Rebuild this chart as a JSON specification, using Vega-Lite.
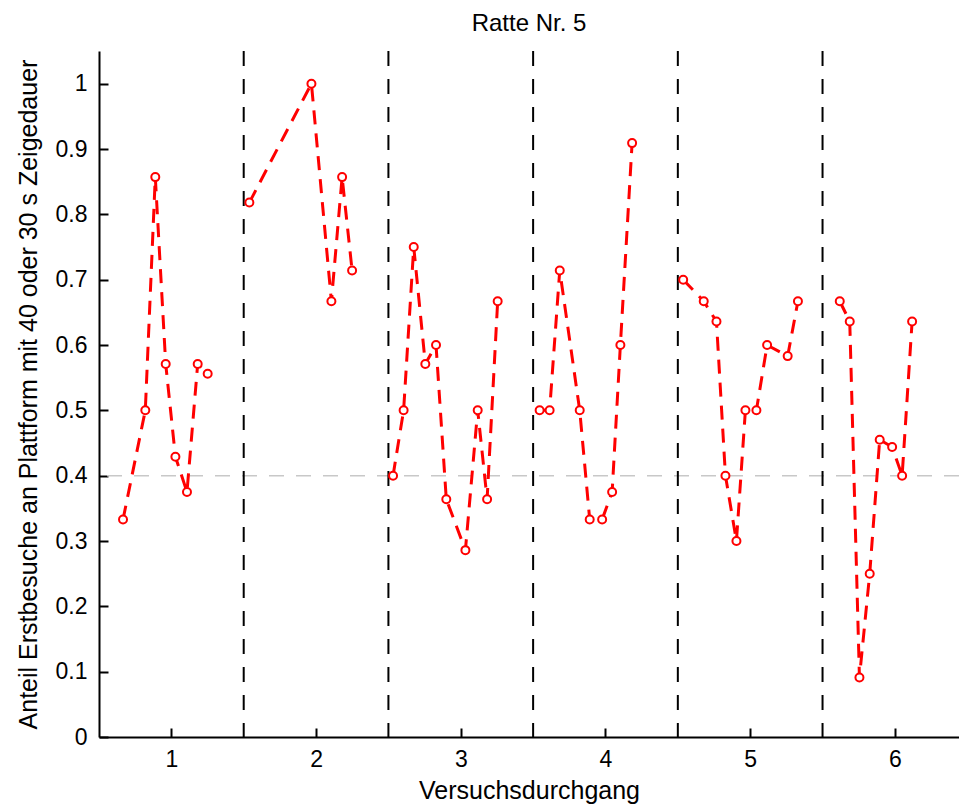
{
  "$schema": "https://vega.github.io/schema/vega-lite/v6.json",
  "width": 860,
  "height": 686,
  "autosize": {"type": "none"},
  "padding": {"left": 99, "top": 51, "right": 0, "bottom": 72},
  "background": "white",
  "title": {"text": "Ratte Nr. 5", "fontSize": 24, "font": "Liberation Sans", "fontWeight": "normal", "color": "black", "baseline": "alphabetic", "frame": "group", "offset": 20, "dy": 25},
  "config": {
    "view": {"stroke": null},
    "axis": {"grid": false, "domainColor": "black", "domainWidth": 2, "tickColor": "black", "tickWidth": 2, "tickSize": -9,
      "labelFont": "Liberation Sans", "labelFontSize": 23, "labelColor": "black",
      "titleFont": "Liberation Sans", "titleFontSize": 25, "titleFontWeight": "normal", "titleColor": "black"}
  },
  "datasets": {
    "pts": [
      {"g": 1, "x": 0.666, "y": 0.333}, {"g": 1, "x": 0.820, "y": 0.5}, {"g": 1, "x": 0.889, "y": 0.857}, {"g": 1, "x": 0.961, "y": 0.571},
      {"g": 1, "x": 1.028, "y": 0.429}, {"g": 1, "x": 1.108, "y": 0.375}, {"g": 1, "x": 1.182, "y": 0.571}, {"g": 1, "x": 1.251, "y": 0.556},
      {"g": 2, "x": 1.539, "y": 0.818}, {"g": 2, "x": 1.968, "y": 1.0}, {"g": 2, "x": 2.106, "y": 0.667}, {"g": 2, "x": 2.180, "y": 0.857}, {"g": 2, "x": 2.249, "y": 0.714},
      {"g": 3, "x": 2.532, "y": 0.4}, {"g": 3, "x": 2.605, "y": 0.5}, {"g": 3, "x": 2.675, "y": 0.75}, {"g": 3, "x": 2.755, "y": 0.571}, {"g": 3, "x": 2.829, "y": 0.6},
      {"g": 3, "x": 2.900, "y": 0.364}, {"g": 3, "x": 3.032, "y": 0.286}, {"g": 3, "x": 3.117, "y": 0.5}, {"g": 3, "x": 3.182, "y": 0.364}, {"g": 3, "x": 3.255, "y": 0.667},
      {"g": 4, "x": 3.545, "y": 0.5}, {"g": 4, "x": 3.614, "y": 0.5}, {"g": 4, "x": 3.684, "y": 0.714}, {"g": 4, "x": 3.822, "y": 0.5}, {"g": 4, "x": 3.891, "y": 0.333},
      {"g": 4, "x": 3.977, "y": 0.333}, {"g": 4, "x": 4.046, "y": 0.375}, {"g": 4, "x": 4.103, "y": 0.6}, {"g": 4, "x": 4.184, "y": 0.909},
      {"g": 5, "x": 4.537, "y": 0.7}, {"g": 5, "x": 4.679, "y": 0.667}, {"g": 5, "x": 4.767, "y": 0.636}, {"g": 5, "x": 4.829, "y": 0.4}, {"g": 5, "x": 4.905, "y": 0.3},
      {"g": 5, "x": 4.967, "y": 0.5}, {"g": 5, "x": 5.043, "y": 0.5}, {"g": 5, "x": 5.117, "y": 0.6}, {"g": 5, "x": 5.259, "y": 0.583}, {"g": 5, "x": 5.330, "y": 0.667},
      {"g": 6, "x": 5.619, "y": 0.667}, {"g": 6, "x": 5.688, "y": 0.636}, {"g": 6, "x": 5.755, "y": 0.091}, {"g": 6, "x": 5.826, "y": 0.25}, {"g": 6, "x": 5.895, "y": 0.455},
      {"g": 6, "x": 5.981, "y": 0.444}, {"g": 6, "x": 6.050, "y": 0.4}, {"g": 6, "x": 6.119, "y": 0.636}
    ],
    "vlines": [{"x": 1.5}, {"x": 2.5}, {"x": 3.5}, {"x": 4.5}, {"x": 5.5}],
    "hline": [{"y": 0.4}]
  },
  "layer": [
    {
      "data": {"name": "hline"},
      "mark": {"type": "rule", "color": "#c8c8c8", "strokeWidth": 1.5, "strokeDash": [15, 12]},
      "encoding": {
        "y": {"field": "y", "type": "quantitative", "scale": {"domain": [0, 1.05], "nice": false, "zero": false},
          "axis": {"values": [0, 0.1, 0.2, 0.3, 0.4, 0.5, 0.6, 0.7, 0.8, 0.9, 1], "format": "~g", "labelPadding": 21, "title": "Anteil Erstbesuche an Plattform mit 40 oder 30 s Zeigedauer", "titleX": -71, "titleY": 343, "titleAngle": 270, "titleBaseline": "middle", "titleAlign": "center"}}
      }
    },
    {
      "data": {"name": "vlines"},
      "mark": {"type": "rule", "color": "black", "strokeWidth": 2, "strokeDash": [15, 13]},
      "encoding": {
        "x": {"field": "x", "type": "quantitative", "scale": {"domain": [0.5, 6.443], "nice": false, "zero": false},
          "axis": {"values": [1, 2, 3, 4, 5, 6], "format": "d", "labelPadding": 20, "title": "Versuchsdurchgang", "titleX": 430, "titleY": 53, "titleBaseline": "middle", "titleAlign": "center"}}
      }
    },
    {
      "data": {"name": "pts"},
      "mark": {"type": "line", "color": "red", "strokeWidth": 3, "strokeDash": [14, 9]},
      "encoding": {
        "x": {"field": "x", "type": "quantitative", "scale": {"domain": [0.5, 6.443], "nice": false, "zero": false},
          "axis": {"values": [1, 2, 3, 4, 5, 6], "format": "d", "labelPadding": 20, "title": "Versuchsdurchgang", "titleX": 430, "titleY": 53, "titleBaseline": "middle", "titleAlign": "center"}},
        "y": {"field": "y", "type": "quantitative", "scale": {"domain": [0, 1.05], "nice": false, "zero": false},
          "axis": {"values": [0, 0.1, 0.2, 0.3, 0.4, 0.5, 0.6, 0.7, 0.8, 0.9, 1], "format": "~g", "labelPadding": 21, "title": "Anteil Erstbesuche an Plattform mit 40 oder 30 s Zeigedauer", "titleX": -71, "titleY": 343, "titleAngle": 270, "titleBaseline": "middle", "titleAlign": "center"}},
        "detail": {"field": "g", "type": "nominal"},
        "order": {"field": "x", "type": "quantitative"}
      }
    },
    {
      "data": {"name": "pts"},
      "mark": {"type": "point", "shape": "circle", "filled": false, "fill": "white", "color": "red", "stroke": "red", "strokeWidth": 2, "size": 64, "opacity": 1},
      "encoding": {
        "x": {"field": "x", "type": "quantitative", "scale": {"domain": [0.5, 6.443], "nice": false, "zero": false},
          "axis": {"values": [1, 2, 3, 4, 5, 6], "format": "d", "labelPadding": 20, "title": "Versuchsdurchgang", "titleX": 430, "titleY": 53, "titleBaseline": "middle", "titleAlign": "center"}},
        "y": {"field": "y", "type": "quantitative", "scale": {"domain": [0, 1.05], "nice": false, "zero": false},
          "axis": {"values": [0, 0.1, 0.2, 0.3, 0.4, 0.5, 0.6, 0.7, 0.8, 0.9, 1], "format": "~g", "labelPadding": 21, "title": "Anteil Erstbesuche an Plattform mit 40 oder 30 s Zeigedauer", "titleX": -71, "titleY": 343, "titleAngle": 270, "titleBaseline": "middle", "titleAlign": "center"}}
      }
    }
  ]
}
